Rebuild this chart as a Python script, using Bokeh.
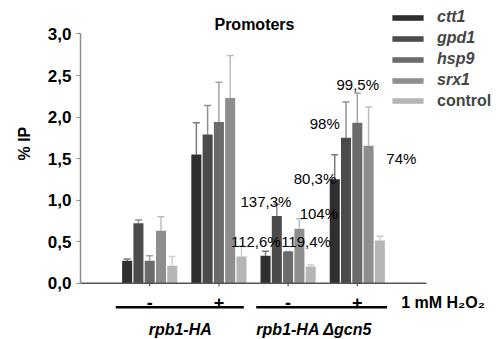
import numpy as np
from bokeh.plotting import figure
from bokeh.models import (ColumnDataSource, Whisker, TeeHead, Legend, LegendItem,
                          FixedTicker, CustomJSTickFormatter)
from bokeh.embed import file_html
from bokeh.resources import INLINE
from bokeh.core.properties import value

# ---------------- data ----------------
title_text = "Promoters"
y_label = "% IP"
condition_label = "1 mM H\u2082O\u2082"
group_pos = [1, 2, 3, 4]
treatment = ["-", "+", "-", "+"]
strains = ["rpb1-HA", "rpb1-HA \u0394gcn5"]

series_names = ["ctt1", "gpd1", "hsp9", "srx1", "control"]
ctt1 = [0.27, 1.55, 0.33, 1.25]
gpd1 = [0.72, 1.79, 0.81, 1.75]
hsp9 = [0.27, 1.94, 0.38, 1.93]
srx1 = [0.63, 2.23, 0.655, 1.655]
control = [0.21, 0.32, 0.20, 0.514]

ctt1_err = [0.02, 0.38, 0.055, 0.295]
gpd1_err = [0.04, 0.35, 0.14, 0.43]
hsp9_err = [0.06, 0.48, 0.0, 0.36]
srx1_err = [0.17, 0.51, 0.12, 0.465]
control_err = [0.11, 0.13, 0.02, 0.05]

pct_labels = ["137,3%", "112,6%", "119,4%", "104%", "80,3%", "98%", "99,5%", "74%"]
pct_x = [2.68, 2.533, 3.259, 3.444, 3.389, 3.529, 4.007, 4.636]
pct_y = [0.987, 0.502, 0.502, 0.835, 1.257, 1.919, 2.392, 1.498]

y_ticks = [0, 0.5, 1.0, 1.5, 2.0, 2.5, 3.0]

# ---------------- style ----------------
FONT = "Liberation Sans"
bar_colors = ["#2f2f2f", "#4b4b4b", "#6b6b6b", "#8e8e8e", "#b6b6b6"]
err_colors = ["#7a7a7a", "#8f8f8f", "#a2a2a2", "#bdbdbd", "#cfcfcf"]
values = [ctt1, gpd1, hsp9, srx1, control]
errors = [ctt1_err, gpd1_err, hsp9_err, srx1_err, control_err]

p = figure(width=497, height=339, x_range=(0, 6.026), y_range=(-0.678, 3.403),
           output_backend="svg", toolbar_location=None, x_axis_location=None,
           title=y_label, title_location="left",
           min_border_left=80, min_border_right=0, min_border_top=0, min_border_bottom=0)
p.grid.visible = False
p.outline_line_color = None
p.background_fill_color = "white"

p.title.align = "left"
p.title.offset = 179
p.title.standoff = 23
p.title.text_font = FONT
p.title.text_font_size = "16px"
p.title.text_font_style = "bold"
p.title.text_color = "black"

ya = p.yaxis[0]
ya.bounds = (0, 3)
ya.ticker = FixedTicker(ticks=y_ticks, minor_ticks=[])
ya.formatter = CustomJSTickFormatter(code="return tick.toFixed(1).replace('.', ',');")
ya.major_label_text_font = FONT
ya.major_label_text_font_size = "17px"
ya.major_label_text_font_style = "bold"
ya.major_label_text_color = "black"
ya.major_tick_out = 4
ya.major_tick_in = 0
ya.minor_tick_out = 0
ya.minor_tick_in = 0
ya.axis_line_color = "#8c8c8c"
ya.axis_line_width = 1.5
ya.major_tick_line_color = "#8c8c8c"
ya.major_label_standoff = 5

width = 0.145
step = 0.163
renderers = []
for i, (name, vals, errs) in enumerate(zip(series_names, values, errors)):
    xs = [g + (i - 2) * step for g in group_pos]
    src = ColumnDataSource(dict(x=xs, top=vals, upper=[v + e for v, e in zip(vals, errs)]))
    r = p.vbar(x="x", top="top", bottom=0, width=width, source=src,
               fill_color=bar_colors[i], line_color=None)
    renderers.append(r)
    w = Whisker(source=src, base="x", upper="upper", lower="top",
                line_color=err_colors[i], line_width=1.5,
                upper_head=TeeHead(size=7, line_color=err_colors[i], line_width=1.5),
                lower_head=None)
    p.add_layout(w)

# x axis line and ticks
p.segment(x0=[0], y0=[0], x1=[5], y1=[0], line_color="#555555", line_width=1.5)
p.segment(x0=group_pos, y0=[0] * 4, x1=group_pos, y1=[-0.036] * 4,
          line_color="#555555", line_width=1.2)
p.text(x=group_pos, y=[-0.232] * 4, text=treatment, text_align="center",
       text_baseline="alphabetic", text_font=value(FONT), text_font_size="18px",
       text_font_style="bold", text_color="black")

# strain brackets
p.segment(x0=[0.51, 2.54], y0=[-0.289] * 2, x1=[2.36, 4.43], y1=[-0.289] * 2,
          line_color="black", line_width=2.5)
p.text(x=[1.441, 3.377], y=[-0.557] * 2, text=strains, text_align="center",
       text_baseline="alphabetic", text_font=value(FONT), text_font_size="16px",
       text_font_style="bold italic", text_color="black")

p.text(x=[4.634], y=[-0.229], text=[condition_label], text_align="left",
       text_baseline="alphabetic", text_font=value(FONT), text_font_size="16px",
       text_font_style="bold", text_color="black")

# chart title
p.text(x=[2.514], y=[3.114], text=[title_text], text_align="center",
       text_baseline="middle", text_font=value(FONT), text_font_size="16px",
       text_font_style="bold", text_color="black")

# percentage annotations
p.text(x=pct_x, y=pct_y, text=pct_labels, text_align="center",
       text_baseline="middle", text_font=value(FONT), text_font_size="15px",
       text_color="black")

common = dict(orientation="vertical", glyph_width=39, glyph_height=7,
              label_standoff=10, label_height=20, spacing=1, padding=0, margin=0,
              border_line_color=None, background_fill_alpha=0,
              label_text_font=FONT, label_text_font_size="16px")
leg1 = Legend(items=[LegendItem(label=n, renderers=[r])
                     for n, r in zip(series_names[:4], renderers[:4])],
              location=(308, 249), label_text_font_style="bold italic", **common)
leg2 = Legend(items=[LegendItem(label=series_names[4], renderers=[renderers[4]])],
              location=(308, 228.5), label_text_font_style="bold", **common)
p.add_layout(leg1)
p.add_layout(leg2)

open("out.html", "w").write(file_html(p, INLINE))
